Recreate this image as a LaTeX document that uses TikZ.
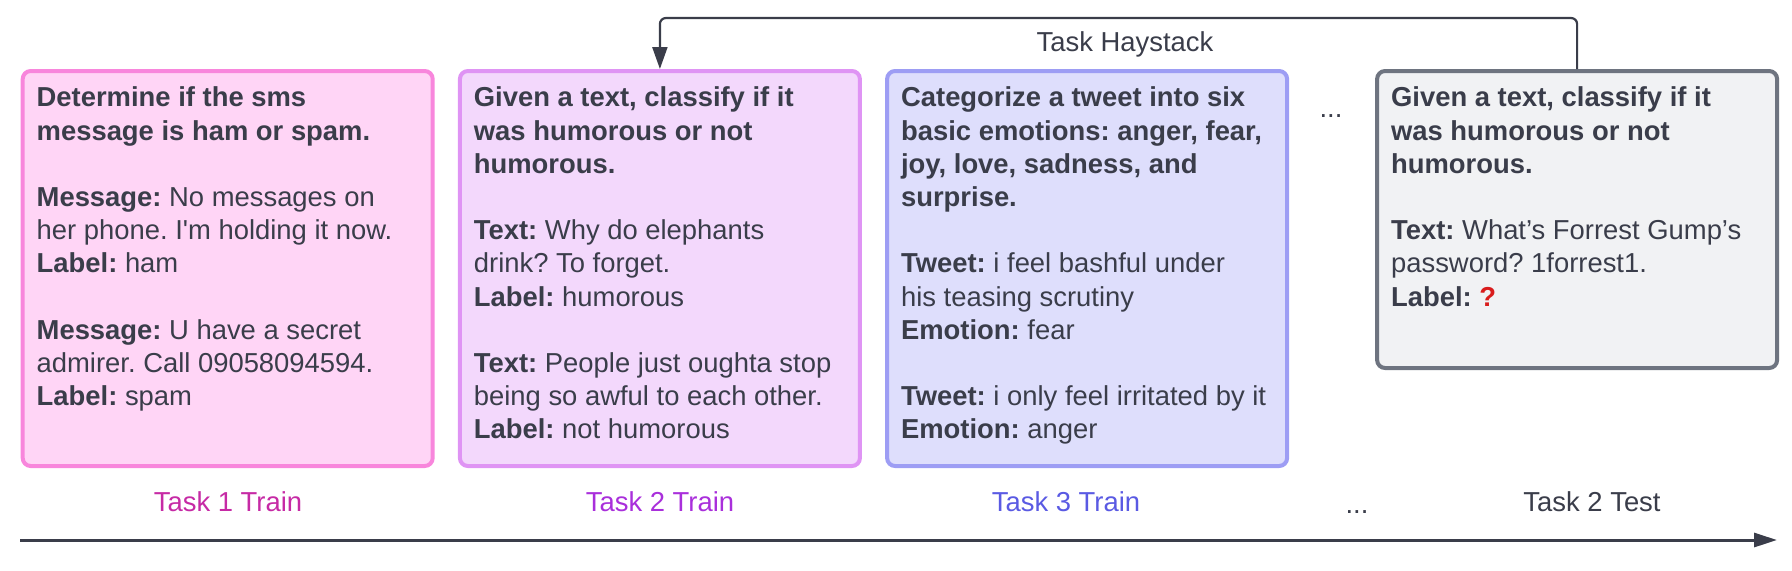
\documentclass[tikz,border=0pt]{standalone}
\usepackage{fontspec}
\setmainfont{Liberation Sans}
\usepackage{xcolor}
\usepackage{tikz}
\usetikzlibrary{positioning,arrows.meta}

\definecolor{ink}{HTML}{3A3D4A}
\definecolor{pinkline}{HTML}{F886DC}
\definecolor{pinkfill}{HTML}{FFD5F6}
\definecolor{violetline}{HTML}{DF94F4}
\definecolor{violetfill}{HTML}{F3D8FC}
\definecolor{blueline}{HTML}{9D9DF4}
\definecolor{bluefill}{HTML}{DEDEFC}
\definecolor{grayline}{HTML}{6E7480}
\definecolor{grayfill}{HTML}{F1F2F4}
\definecolor{taskonec}{HTML}{C62AA5}
\definecolor{tasktwoc}{HTML}{A92FDB}
\definecolor{taskthreec}{HTML}{5A5AE3}
\definecolor{qred}{HTML}{D91C1C}

\newcommand{\taskbody}[3]{\parbox[t][#1][t]{#2}{\raggedright\frenchspacing #3}}

\begin{document}
\begin{tikzpicture}[x=0.5pt,y=-0.5pt,
      task/.style={rectangle,draw,rounded corners=4pt,line width=2pt,inner xsep=7pt,inner ysep=8pt,text=ink,font=\fontsize{13.7pt}{16.6pt}\selectfont},
      tag/.style={anchor=base,font=\fontsize{13.7pt}{16.6pt}\selectfont},
      link/.style={draw=ink,line width=1.1pt,rounded corners=3pt,-{Triangle[length=11pt,width=7.5pt]}},
      axis/.style={draw=ink,line width=1.5pt,-{Triangle[length=11.5pt,width=7pt]}}]
      \useasboundingbox (0,0) rectangle (1792,570);
      \node[task,draw=pinkline,fill=pinkfill,anchor=north west] (train1) at (20.7,69) {\taskbody{181.5pt}{191pt}{\textbf{Determine if the sms}\\ \textbf{message is ham or spam.}\\[16.6pt] \textbf{Message:} No messages on\\ her phone. I\textquotesingle m holding it now.\\ \textbf{Label:} ham\\[16.6pt] \textbf{Message:} U have a secret\\ admirer. Call 09058094594.\\ \textbf{Label:} spam}};
      \node[task,draw=violetline,fill=violetfill,right=11.6pt of train1] (train2) {\taskbody{181.5pt}{186pt}{\textbf{Given a text, classify if it}\\ \textbf{was humorous or not}\\ \textbf{humorous.}\\[16.6pt] \textbf{Text:} Why do elephants\\ drink? To forget.\\ \textbf{Label:} humorous\\[16.6pt] \textbf{Text:} People just oughta stop\\ being so awful to each other.\\ \textbf{Label:} not humorous}};
      \node[task,draw=blueline,fill=bluefill,right=11.6pt of train2] (train3) {\taskbody{181.5pt}{186pt}{\textbf{Categorize a tweet into six}\\ \textbf{basic emotions: anger, fear,}\\ \textbf{joy, love, sadness, and}\\ \textbf{surprise.}\\[16.6pt] \textbf{Tweet:} i feel bashful under\\ his teasing scrutiny\\ \textbf{Emotion:} fear\\[16.6pt] \textbf{Tweet:} i only feel irritated by it\\ \textbf{Emotion:} anger}};
      \node[task,draw=grayline,fill=grayfill,right=43pt of train3.north east,anchor=north west] (test) {\taskbody{132.5pt}{186pt}{\textbf{Given a text, classify if it}\\ \textbf{was humorous or not}\\ \textbf{humorous.}\\[16.6pt] \textbf{Text:} What’s Forrest Gump’s\\ password? 1forrest1.\\ \textbf{Label:} \textcolor{qred}{\textbf{?}}}};

      % labels under the boxes
      \node[tag,text=taskonec] (lab1) at (228,511) {Task 1 Train};
      \node[tag,text=tasktwoc] (lab2) at (660,511) {Task 2 Train};
      \node[tag,text=taskthreec] (lab3) at (1066,511) {Task 3 Train};
      \node[tag,text=ink] (lab4) at (1592,511) {Task 2 Test};
      \node[tag,text=ink] (dots1) at (1331,117) {...};
      \node[tag,text=ink] (dots2) at (1357,513) {...};
      \node[tag,text=ink] (hay) at (1125,51) {Task Haystack};

      \draw[link] (test.north) -- ++(0,-51) -| (train2.north);

      \coordinate (t0) at (20,540);
      \coordinate (t1) at (1777,540);
      \draw[axis] (t0) -- (t1);
    \end{tikzpicture}
\end{document}
